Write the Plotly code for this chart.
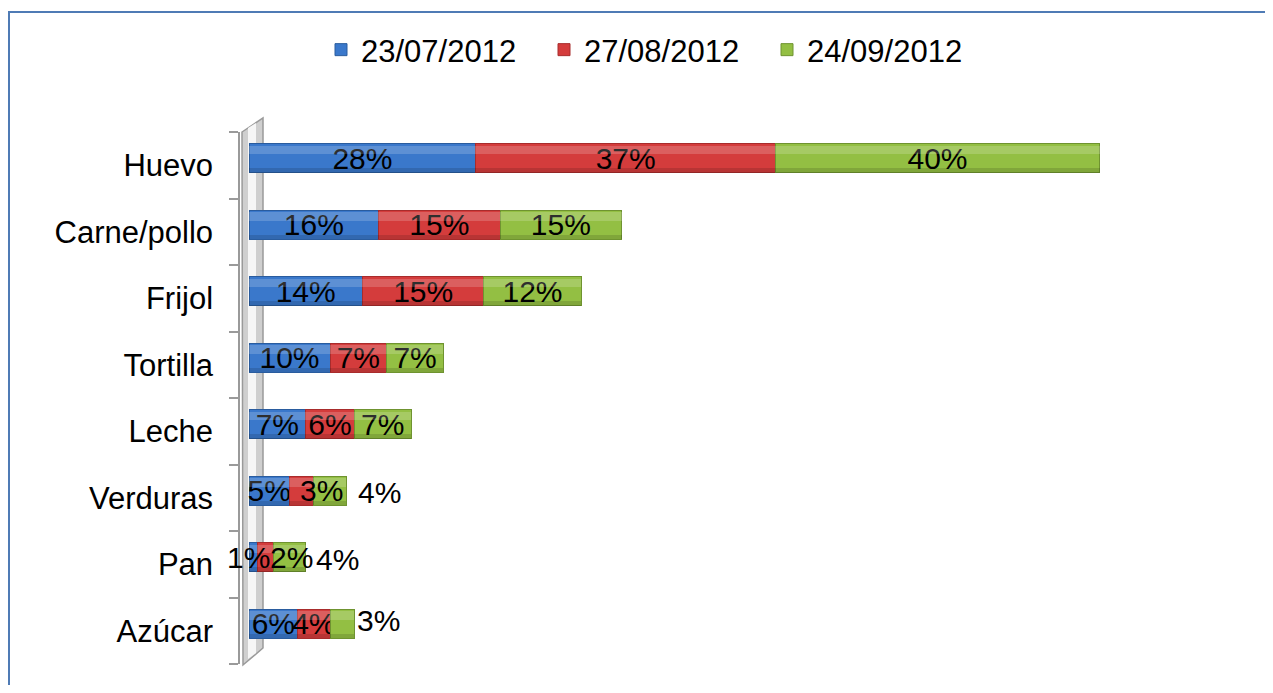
import plotly.graph_objects as go

categories = ['Huevo', 'Carne/pollo', 'Frijol', 'Tortilla', 'Leche', 'Verduras', 'Pan', 'Azúcar']
series_names = ['23/07/2012', '27/08/2012', '24/09/2012']
s1 = [28, 16, 14, 10, 7, 5, 1, 6]
s2 = [37, 15, 15, 7, 6, 3, 2, 4]
s3 = [40, 15, 12, 7, 7, 4, 4, 3]
colors = ['#3A78CB', '#D43C3C', '#93BF43']
edge = ['#2A5C9E', '#A82C2C', '#6F9330']

# page has an 8px body margin; figure is sized to fit the 1273x693 window
OFF = 8
W, H = 1273 - 2 * OFF, 693 - 2 * OFF
PL, PR, PT, PB = 240, 1217, 132, 664   # plot area in window pixels
ML, MR, MT, MB = PL - OFF, W - (PR - OFF), PT - OFF, H - (PB - OFF)
pw = PR - PL
ph = PB - PT

def px(x):
    return (x - PL) / pw

def py(y):
    return (PB - y) / ph

FONT = 'Liberation Sans, Arial, sans-serif'
BAR_W, BAR_OFF = 0.44, -0.115
fig = go.Figure()

# label placement tweaks for the tiny segments (series index, category index) -> (xshift, yshift)
inside_nudge = {(1, 5): (20, 0), (0, 6): (-5, 0), (1, 6): (26, 0)}
outside_nudge = {5: (10, -2), 6: (8, -2), 7: (1, 3)}   # green labels placed after the bar

all_series = [s1, s2, s3]

# soft highlight / shade bands to hint at the rounded 3-D bars (own axes so they stack separately)
for i, vals in enumerate(all_series):
    fig.add_trace(go.Bar(
        y=categories, x=vals, orientation='h', xaxis='x2', showlegend=False,
        hoverinfo='skip', marker=dict(color='rgba(255,255,255,0.18)', line=dict(width=0)),
        width=0.13, offset=0.165))
    fig.add_trace(go.Bar(
        y=categories, x=vals, orientation='h', xaxis='x3', showlegend=False,
        hoverinfo='skip', marker=dict(color='rgba(0,0,0,0.13)', line=dict(width=0)),
        width=0.07, offset=BAR_OFF))

for i, (name, vals) in enumerate(zip(series_names, all_series)):
    texts = []
    for k, v in enumerate(vals):
        hidden = (i, k) in inside_nudge or (i == 2 and k in outside_nudge)
        texts.append('' if hidden else f'{v}%')
    fig.add_trace(go.Bar(
        y=categories, x=vals, name=name, orientation='h',
        marker=dict(color=colors[i], line=dict(color=edge[i], width=1)),
        text=texts, textposition='inside', textangle=0,
        insidetextanchor='middle', constraintext='none',
        textfont=dict(family=FONT, size=30, color='black'),
        width=BAR_W, offset=BAR_OFF, cliponaxis=False,
    ))

annotations = []
for (i, k), (dx, dy) in inside_nudge.items():
    start = sum(all_series[j][k] for j in range(i))
    annotations.append(dict(
        x=start + all_series[i][k] / 2, y=categories[k], xref='x', yref='y',
        text=f'{all_series[i][k]}%', showarrow=False, xshift=dx, yshift=7 + dy,
        font=dict(family=FONT, size=30, color='black')))
for k, (dx, dy) in outside_nudge.items():
    total = s1[k] + s2[k] + s3[k]
    annotations.append(dict(
        x=total, y=categories[k], xref='x', yref='y', xanchor='left',
        text=f'{s3[k]}%', showarrow=False, xshift=dx, yshift=7 + dy,
        font=dict(family=FONT, size=30, color='black')))

wall = (f'M {px(242)},{py(132)} L {px(263)},{py(118)} L {px(263)},{py(648)} '
        f'L {px(243)},{py(665)} Z')
wall_in = (f'M {px(248)},{py(128)} L {px(256)},{py(123)} L {px(256)},{py(653)} '
           f'L {px(248)},{py(659)} Z')
shapes = [
    dict(type='path', xref='paper', yref='paper', path=wall,
         fillcolor='#CFCFCF', line=dict(color='#9A9A9A', width=1.5), layer='below'),
    dict(type='path', xref='paper', yref='paper', path=wall_in,
         fillcolor='#F6F6F6', line=dict(width=0), layer='below'),
    dict(type='rect', xref='paper', yref='paper', x0=px(9), x1=px(1300),
         y0=py(720), y1=py(12), line=dict(color='#4F7BB5', width=2),
         fillcolor='rgba(0,0,0,0)', layer='below'),
]

xr = [-9 / 8.1, (PR - 249) / 8.1]
fig.update_layout(
    width=W, height=H, barmode='stack',
    margin=dict(l=ML, r=MR, t=MT, b=MB, autoexpand=False),
    paper_bgcolor='white', plot_bgcolor='rgba(0,0,0,0)',
    font=dict(family=FONT, size=31, color='black'),
    uniformtext=dict(minsize=30, mode='show'),
    shapes=shapes, annotations=annotations,
    legend=dict(orientation='h', xref='container', yref='container',
                x=313 / W, xanchor='left', y=1 - 15 / H, yanchor='top',
                font=dict(family=FONT, size=31, color='black'),
                itemwidth=30, traceorder='normal',
                entrywidth=178, entrywidthmode='pixels'),
    xaxis=dict(range=xr, visible=False),
    xaxis2=dict(range=xr, visible=False, overlaying='x'),
    xaxis3=dict(range=xr, visible=False, overlaying='x'),
    yaxis=dict(categoryorder='array', categoryarray=categories[::-1],
               showline=True, linecolor='#9A9A9A', linewidth=1.5,
               ticks='outside', tickson='boundaries', ticklen=9,
               tickcolor='#9A9A9A', tickwidth=1.5, automargin=False,
               ticklabelstandoff=19, showgrid=False,
               tickfont=dict(family=FONT, size=31, color='black')),
    showlegend=True,
)

fig.write_html('out.html')
